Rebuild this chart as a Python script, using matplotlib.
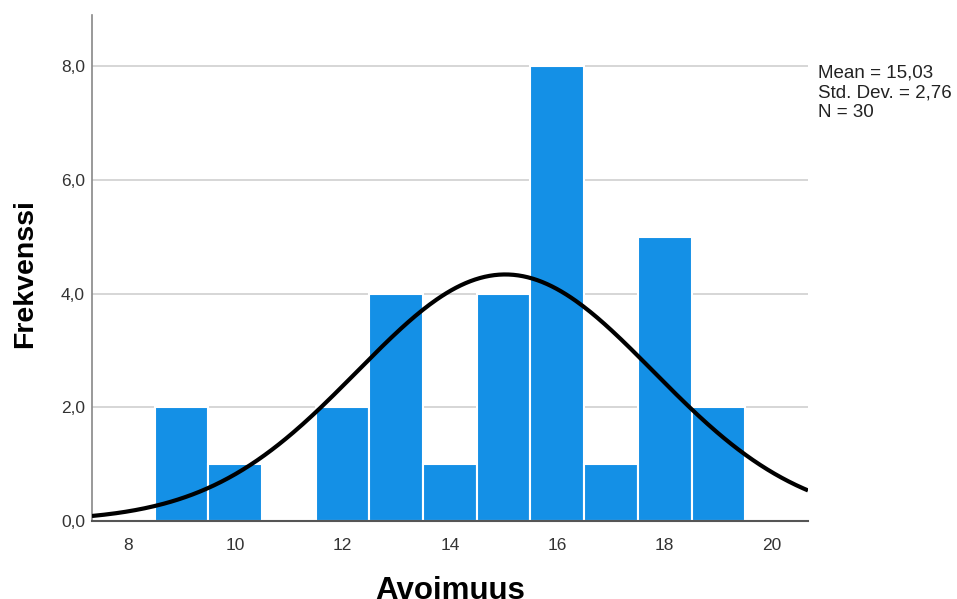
import numpy as np
import matplotlib
matplotlib.use("Agg")
import matplotlib.pyplot as plt

plt.rcParams['font.family'] = ['Liberation Sans', 'DejaVu Sans']

# histogram counts per unit bin (bin centres)
bin_centres = [9, 10, 12, 13, 14, 15, 16, 17, 18, 19]
counts = [2, 1, 2, 4, 1, 4, 8, 1, 5, 2]
mean = 15.03
std_dev = 2.76
n = 30
x_ticks = [8, 10, 12, 14, 16, 18, 20]
y_ticks = [0, 2, 4, 6, 8]

fig = plt.figure(figsize=(9.57, 5.99), dpi=100)
ax = fig.add_axes([0.0961, 0.1302, 0.7482, 0.8448])

ax.set_axisbelow(True)
ax.grid(axis='y', color='#d0d0d0', linewidth=1.2)
ax.bar(bin_centres, counts, width=1.0, color='#1490e6', edgecolor='white', linewidth=1.5, zorder=2)

xlo, xhi = 7.33, 20.67
xs = np.linspace(xlo, xhi, 300)
ys = n * 1.0 / (std_dev * np.sqrt(2 * np.pi)) * np.exp(-0.5 * ((xs - mean) / std_dev) ** 2)
ax.plot(xs, ys, color='black', linewidth=3, zorder=3, solid_capstyle='butt')

ax.set_xlim(xlo, xhi)
ax.set_ylim(0, 8.9)
ax.set_xticks(x_ticks)
ax.set_yticks(y_ticks)
ax.set_yticklabels([f"{v:.1f}".replace('.', ',') for v in y_ticks])
ax.tick_params(length=0, labelsize=12.5, colors='#333333')
ax.tick_params(axis='x', pad=12)
ax.tick_params(axis='y', pad=5)

for s in ['top', 'right']:
    ax.spines[s].set_visible(False)
ax.spines['left'].set_color('#888888')
ax.spines['left'].set_linewidth(1.2)
ax.spines['bottom'].set_color('#555555')
ax.spines['bottom'].set_linewidth(1.5)

ax.set_xlabel('Avoimuus', fontsize=22.5, fontweight='bold')
ax.xaxis.set_label_coords(0.5, -0.108, transform=ax.transAxes)
ax.xaxis.label.set_va('top')
ax.set_ylabel('Frekvenssi', fontsize=20.5, fontweight='bold')
ax.yaxis.set_label_coords(25 / 957, 1 - 273.5 / 599, transform=fig.transFigure)
ax.yaxis.label.set_va('center')

stats = f"Mean = {mean:.2f}".replace('.', ',') + "\n" + \
        f"Std. Dev. = {std_dev:.2f}".replace('2.', '2,') + "\n" + f"N = {n}"
fig.text(0.855, 1 - 93 / 599, stats, fontsize=13.5, color='#222222', va='center', ha='left', linespacing=1.2)

fig.savefig('out.png', dpi=100)
